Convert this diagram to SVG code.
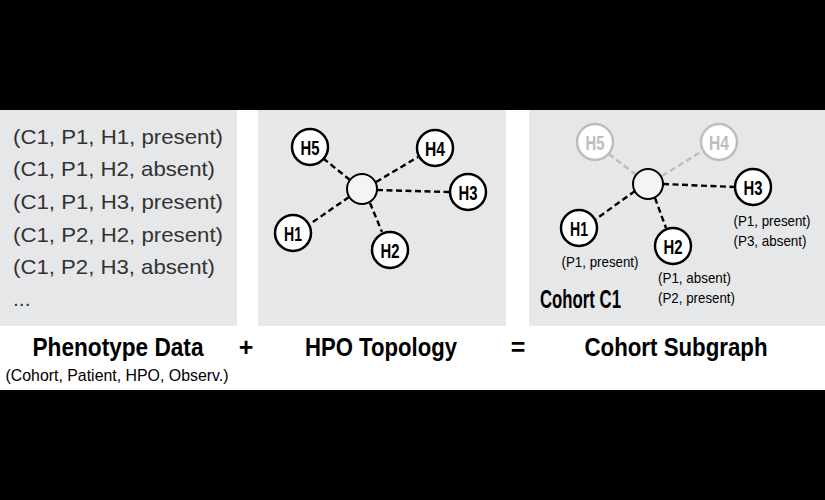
<svg xmlns="http://www.w3.org/2000/svg" width="825" height="500" viewBox="0 0 825 500">
<style>
.panel{fill:#e6e7e8}
.data{font-family:"Liberation Sans",sans-serif;font-size:21px;fill:#333}
.node circle{fill:#fff;stroke:#000;stroke-width:2.5}
.lbl{font-family:"Liberation Sans Narrow","Liberation Sans",sans-serif;font-weight:bold;font-size:21px;fill:#000;text-anchor:middle}
.faded circle{stroke:#bdbdbd}
.faded .lbl{fill:#bdbdbd}
.hub circle{fill:#f4f4f4;stroke:#000;stroke-width:2}
.edge{stroke:#000;stroke-width:2.4;stroke-dasharray:6,3.5;fill:none}
.edge.f{stroke:#bdbdbd}
.obs{font-family:"Liberation Sans Narrow","Liberation Sans",sans-serif;font-weight:normal;font-size:15px;fill:#000;text-anchor:middle}
.title{font-family:"Liberation Sans Narrow","Liberation Sans",sans-serif;font-weight:bold;font-size:25px;fill:#000;text-anchor:middle}
.sub{font-family:"Liberation Sans Narrow","Liberation Sans",sans-serif;font-size:17px;fill:#000;text-anchor:middle}
</style>
<rect x="0" y="0" width="825" height="500" fill="#000"/>
<rect x="0" y="110" width="825" height="280" fill="#fff"/>
<rect class="panel" x="0" y="110" width="237" height="216"/>
<rect class="panel" x="258" y="110" width="248" height="216"/>
<rect class="panel" x="529" y="110" width="296" height="216"/>

<g id="phenotype-data">
<text class="data" x="13" y="144" textLength="210" lengthAdjust="spacingAndGlyphs">(C1, P1, H1, present)</text>
<text class="data" x="13" y="176" textLength="202" lengthAdjust="spacingAndGlyphs">(C1, P1, H2, absent)</text>
<text class="data" x="13" y="209" textLength="210" lengthAdjust="spacingAndGlyphs">(C1, P1, H3, present)</text>
<text class="data" x="13" y="242" textLength="210" lengthAdjust="spacingAndGlyphs">(C1, P2, H2, present)</text>
<text class="data" x="13" y="274" textLength="202" lengthAdjust="spacingAndGlyphs">(C1, P2, H3, absent)</text>
<text class="data" x="13" y="306" font-size="16">...</text>
</g>

<g id="connectors">
<line class="edge" x1="350" y1="180" x2="324" y2="159"/>
<line class="edge" x1="376" y1="182" x2="418" y2="157"/>
<line class="edge" x1="377" y1="190" x2="449" y2="192"/>
<line class="edge" x1="349" y1="197" x2="310" y2="224"/>
<line class="edge" x1="370" y1="203" x2="382" y2="232"/>
<line class="edge f" x1="636" y1="175" x2="609" y2="154"/>
<line class="edge f" x1="662" y1="176" x2="702" y2="151"/>
<line class="edge" x1="663" y1="184" x2="734" y2="187"/>
<line class="edge" x1="635" y1="191" x2="596" y2="219"/>
<line class="edge" x1="655" y1="198" x2="666" y2="228"/>
</g>

<g id="hpo-hub" class="hub"><circle cx="362" cy="189" r="15"/></g>
<g id="hpo-H5" class="node"><circle cx="310" cy="147" r="18"/><text class="lbl" x="310" y="154.5" textLength="19" lengthAdjust="spacingAndGlyphs">H5</text></g>
<g id="hpo-H4" class="node"><circle cx="435" cy="148" r="18"/><text class="lbl" x="435" y="155.5" textLength="20" lengthAdjust="spacingAndGlyphs">H4</text></g>
<g id="hpo-H3" class="node"><circle cx="468" cy="192" r="18"/><text class="lbl" x="468" y="199.5" textLength="19" lengthAdjust="spacingAndGlyphs">H3</text></g>
<g id="hpo-H1" class="node"><circle cx="293" cy="233" r="18"/><text class="lbl" x="293" y="240.5" textLength="18" lengthAdjust="spacingAndGlyphs">H1</text></g>
<g id="hpo-H2" class="node"><circle cx="390" cy="250" r="18"/><text class="lbl" x="390" y="257.5" textLength="19" lengthAdjust="spacingAndGlyphs">H2</text></g>

<g id="sub-hub" class="hub"><circle cx="648" cy="184" r="15"/></g>
<g id="sub-H5" class="node faded"><circle cx="595" cy="142" r="18"/><text class="lbl" x="595" y="149.5" textLength="19" lengthAdjust="spacingAndGlyphs">H5</text></g>
<g id="sub-H4" class="node faded"><circle cx="719" cy="142" r="18"/><text class="lbl" x="719" y="149.5" textLength="20" lengthAdjust="spacingAndGlyphs">H4</text></g>
<g id="sub-H3" class="node"><circle cx="753" cy="187" r="18"/><text class="lbl" x="753" y="194.5" textLength="19" lengthAdjust="spacingAndGlyphs">H3</text>
<text class="obs" x="772" y="226" textLength="77" lengthAdjust="spacingAndGlyphs">(P1, present)</text><text class="obs" x="770" y="246" textLength="73" lengthAdjust="spacingAndGlyphs">(P3, absent)</text></g>
<g id="sub-H1" class="node"><circle cx="579" cy="228" r="18"/><text class="lbl" x="579" y="235.5" textLength="18" lengthAdjust="spacingAndGlyphs">H1</text>
<text class="obs" x="600" y="267" textLength="77" lengthAdjust="spacingAndGlyphs">(P1, present)</text></g>
<g id="sub-H2" class="node"><circle cx="673" cy="246" r="18"/><text class="lbl" x="673" y="253.5" textLength="19" lengthAdjust="spacingAndGlyphs">H2</text>
<text class="obs" x="694.5" y="283" textLength="73" lengthAdjust="spacingAndGlyphs">(P1, absent)</text><text class="obs" x="696.5" y="303" textLength="77" lengthAdjust="spacingAndGlyphs">(P2, present)</text></g>
<text class="title" x="580.5" y="308" font-size="22" textLength="81" lengthAdjust="spacingAndGlyphs">Cohort C1</text>

<g id="labels">
<text class="title" x="118" y="356" textLength="171" lengthAdjust="spacingAndGlyphs">Phenotype Data</text>
<text class="sub" x="117" y="381" textLength="223" lengthAdjust="spacingAndGlyphs">(Cohort, Patient, HPO, Observ.)</text>
<text class="title" x="246" y="356" font-weight="normal" font-size="28">+</text>
<text class="title" x="381" y="356" textLength="152" lengthAdjust="spacingAndGlyphs">HPO Topology</text>
<text class="title" x="518" y="356" font-weight="normal" font-size="28">=</text>
<text class="title" x="676" y="356" textLength="183" lengthAdjust="spacingAndGlyphs">Cohort Subgraph</text>
</g>
</svg>
